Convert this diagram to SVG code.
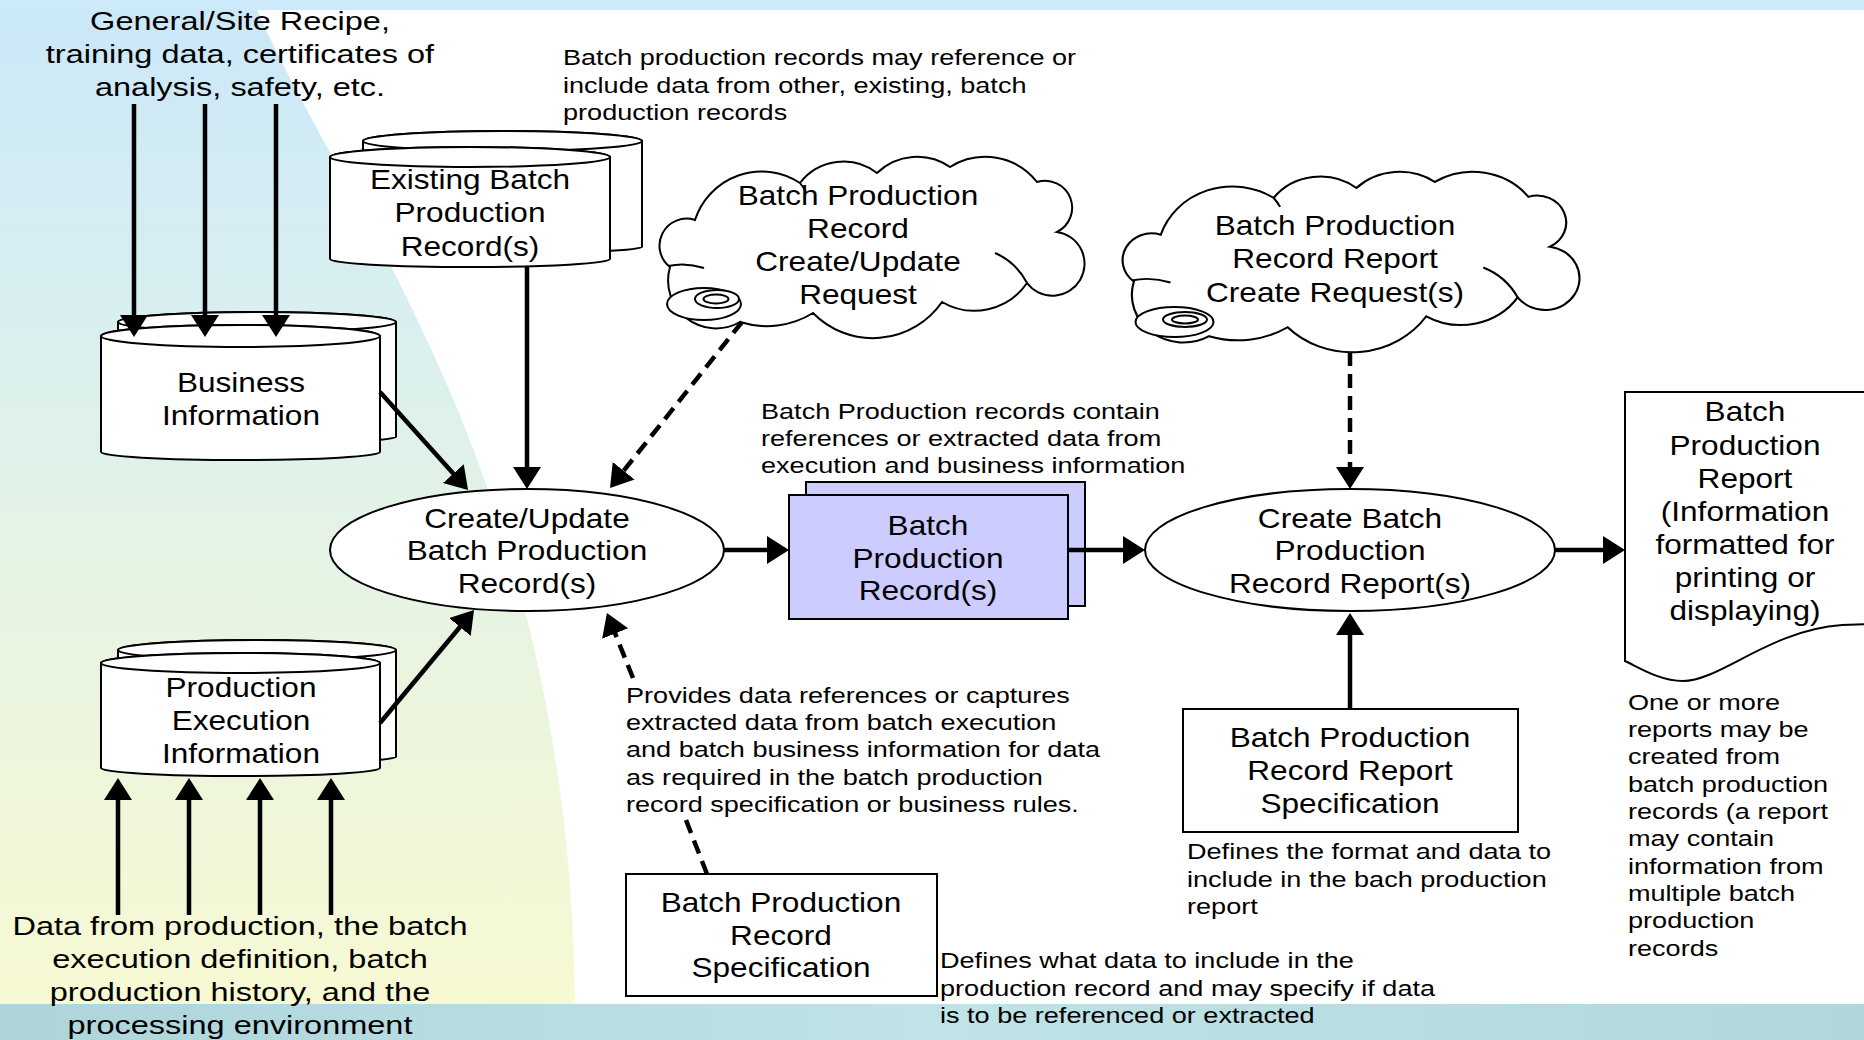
<svg xmlns="http://www.w3.org/2000/svg" width="1864" height="1040" viewBox="0 0 1864 1040">
  <defs>
    <linearGradient id="sideFill" x1="0" y1="0" x2="0" y2="1">
      <stop offset="0" stop-color="#cbe8f9"/>
      <stop offset="0.35" stop-color="#dbf0ee"/>
      <stop offset="0.6" stop-color="#e7f4e2"/>
      <stop offset="1" stop-color="#f7f9d2"/>
    </linearGradient>
    <linearGradient id="footFill" x1="0" y1="0" x2="1" y2="0">
      <stop offset="0" stop-color="#add5da"/>
      <stop offset="0.5" stop-color="#bfe3e6"/>
      <stop offset="1" stop-color="#b0d8dc"/>
    </linearGradient>
    <marker id="ah" markerUnits="userSpaceOnUse" viewBox="0 0 24 30" markerWidth="24" markerHeight="30" refX="14" refY="14" orient="auto">
      <path d="M0,0 L22,14 L0,28 Z" fill="#000"/>
    </marker>
    <!-- cloud outline shared by both request clouds -->
    <path id="cloudShape" d="M670,267 A27,27 0 0 1 695,220 A70,70 0 0 1 800,183 A55,55 0 0 1 877,173 A58,58 0 0 1 950,167 A66,66 0 0 1 1037,182 A27,27 0 0 1 1057,232 A32,32 0 1 1 1027,283 A64,64 0 0 1 942,302 A84,84 0 0 1 813,313 A88,88 0 0 1 740,322 A48,48 0 0 1 670,267 Z"/>
    <path id="cloudInner" d="M668,266 Q686,262 704,268 M1027,283 Q1016,262 995,253 M800,183 Q804,188 806,192"/>
  </defs>
  <style>
    text { font-family: "Liberation Sans", Arial, sans-serif; fill: #000; }
    .n { font-size: 27px; text-anchor: middle; }
    .lab { font-size: 26px; text-anchor: middle; }
    .note { font-size: 21.5px; text-anchor: start; }
    .shape { fill: #fff; stroke: #000; stroke-width: 2; }
    .cloud { fill: #fff; stroke: #000; stroke-width: 2; vector-effect: non-scaling-stroke; }
    .cloudline { fill: none; stroke: #000; stroke-width: 2; vector-effect: non-scaling-stroke; }
    .rec { fill: #ccccff; stroke: #000; stroke-width: 2; }
    .arrow { fill: none; stroke: #000; stroke-width: 4.5; }
    .head { marker-end: url(#ah); }
    .dash { stroke-dasharray: 14 8; }
  </style>

  <!-- backdrop -->
  <rect x="0" y="0" width="1864" height="1040" fill="#fff"/>
  <path d="M0,10 L257,10 C350,220 570,480 575,1005 L0,1005 Z" fill="url(#sideFill)"/>
  <rect x="0" y="0" width="1864" height="10" fill="#cdeafa"/>
  <rect x="0" y="1004" width="1864" height="36" fill="url(#footFill)"/>

  <!-- free labels and notes -->
  <g id="label-recipe">
    <text class="lab" transform="translate(240,0) scale(1.25,1)"><tspan x="0" y="30">General/Site Recipe,</tspan><tspan x="0" y="63">training data, certificates of</tspan><tspan x="0" y="96">analysis, safety, etc.</tspan></text>
  </g>
  <g id="label-production-data">
    <text class="lab" transform="translate(240,0) scale(1.25,1)"><tspan x="0" y="935">Data from production, the batch</tspan><tspan x="0" y="968">execution definition, batch</tspan><tspan x="0" y="1001">production history, and the</tspan><tspan x="0" y="1034">processing environment</tspan></text>
  </g>
  <g id="note-existing">
    <text class="note" transform="translate(563,0) scale(1.26,1)"><tspan x="0" y="65">Batch production records may reference or</tspan><tspan x="0" y="93">include data from other, existing, batch</tspan><tspan x="0" y="120">production records</tspan></text>
  </g>
  <g id="note-contain">
    <text class="note" transform="translate(761,0) scale(1.26,1)"><tspan x="0" y="419">Batch Production records contain</tspan><tspan x="0" y="446">references or extracted data from</tspan><tspan x="0" y="473">execution and business information</tspan></text>
  </g>
  <g id="note-provides">
    <text class="note" transform="translate(626,0) scale(1.26,1)"><tspan x="0" y="703">Provides data references or captures</tspan><tspan x="0" y="730">extracted data from batch execution</tspan><tspan x="0" y="757">and batch business information for data</tspan><tspan x="0" y="785">as required in the batch production</tspan><tspan x="0" y="812">record specification or business rules.</tspan></text>
  </g>
  <g id="note-report-spec">
    <text class="note" transform="translate(1187,0) scale(1.26,1)"><tspan x="0" y="859">Defines the format and data to</tspan><tspan x="0" y="887">include in the bach production</tspan><tspan x="0" y="914">report</tspan></text>
  </g>
  <g id="note-record-spec">
    <text class="note" transform="translate(940,0) scale(1.26,1)"><tspan x="0" y="968">Defines what data to include in the</tspan><tspan x="0" y="996">production record and may specify if data</tspan><tspan x="0" y="1023">is to be referenced or extracted</tspan></text>
  </g>
  <g id="note-reports">
    <text class="note" transform="translate(1628,0) scale(1.26,1)"><tspan x="0" y="710">One or more</tspan><tspan x="0" y="737">reports may be</tspan><tspan x="0" y="764">created from</tspan><tspan x="0" y="792">batch production</tspan><tspan x="0" y="819">records (a report</tspan><tspan x="0" y="846">may contain</tspan><tspan x="0" y="874">information from</tspan><tspan x="0" y="901">multiple batch</tspan><tspan x="0" y="928">production</tspan><tspan x="0" y="956">records</tspan></text>
  </g>

  <!-- stores -->
  <g id="business-information">
    <path class="shape" d="M118,322 L118,437 A139,6 0 0 0 396,437 L396,322 A139,10 0 0 0 118,322 Z"/>
    <ellipse class="shape" cx="257" cy="322" rx="139" ry="10"/>
    <path class="shape" d="M101,336 L101,452 A139.5,8 0 0 0 380,452 L380,336 A139.5,11 0 0 0 101,336 Z"/>
    <ellipse class="shape" cx="240.5" cy="336" rx="139.5" ry="11"/>
    <text class="n" transform="translate(241,0) scale(1.17,1)"><tspan x="0" y="392">Business</tspan><tspan x="0" y="425">Information</tspan></text>
  </g>
  <g id="production-execution-information">
    <path class="shape" d="M118,650 L118,757 A139,6 0 0 0 396,757 L396,650 A139,10 0 0 0 118,650 Z"/>
    <ellipse class="shape" cx="257" cy="650" rx="139" ry="10"/>
    <path class="shape" d="M101,663 L101,768 A139.5,8 0 0 0 380,768 L380,663 A139.5,10 0 0 0 101,663 Z"/>
    <ellipse class="shape" cx="240.5" cy="663" rx="139.5" ry="10"/>
    <text class="n" transform="translate(241,0) scale(1.17,1)"><tspan x="0" y="697">Production</tspan><tspan x="0" y="730">Execution</tspan><tspan x="0" y="763">Information</tspan></text>
  </g>
  <g id="existing-records">
    <path class="shape" d="M363,141 L363,247 A139.5,6 0 0 0 642,247 L642,141 A139.5,10 0 0 0 363,141 Z"/>
    <ellipse class="shape" cx="502.5" cy="141" rx="139.5" ry="10"/>
    <path class="shape" d="M330,157 L330,259 A140,8 0 0 0 610,259 L610,157 A140,10 0 0 0 330,157 Z"/>
    <ellipse class="shape" cx="470" cy="157" rx="140" ry="10"/>
    <text class="n" transform="translate(470,0) scale(1.17,1)"><tspan x="0" y="189">Existing Batch</tspan><tspan x="0" y="222">Production</tspan><tspan x="0" y="256">Record(s)</tspan></text>
  </g>

  <!-- request clouds -->
  <g id="record-request">
    <use href="#cloudShape" class="cloud"/>
    <use href="#cloudInner" class="cloudline"/>
    <ellipse class="shape" cx="704" cy="304" rx="37" ry="16"/>
    <ellipse class="shape" cx="717" cy="299" rx="22" ry="9"/>
    <ellipse class="shape" cx="716" cy="299" rx="12.5" ry="4.5"/>
    <text class="n" transform="translate(858,0) scale(1.17,1)"><tspan x="0" y="205">Batch Production</tspan><tspan x="0" y="238">Record</tspan><tspan x="0" y="271">Create/Update</tspan><tspan x="0" y="304">Request</tspan></text>
  </g>
  <g id="report-request">
    <g transform="matrix(1.075 0 0 0.995 413.65 15.8)">
      <use href="#cloudShape" class="cloud"/>
      <use href="#cloudInner" class="cloudline"/>
    </g>
    <ellipse class="shape" cx="1174.5" cy="322" rx="39" ry="15"/>
    <ellipse class="shape" cx="1185" cy="319.5" rx="22" ry="7.5"/>
    <ellipse class="shape" cx="1185" cy="319.5" rx="13" ry="4"/>
    <text class="n" transform="translate(1335,0) scale(1.17,1)"><tspan x="0" y="235">Batch Production</tspan><tspan x="0" y="268">Record Report</tspan><tspan x="0" y="302">Create Request(s)</tspan></text>
  </g>

  <!-- processes -->
  <g id="create-update-records">
    <ellipse class="shape" cx="527" cy="550" rx="197" ry="61"/>
    <text class="n" transform="translate(527,0) scale(1.17,1)"><tspan x="0" y="528">Create/Update</tspan><tspan x="0" y="560">Batch Production</tspan><tspan x="0" y="593">Record(s)</tspan></text>
  </g>
  <g id="batch-production-records">
    <rect class="rec" x="806" y="482" width="279" height="124"/>
    <rect class="rec" x="789" y="495" width="279" height="124"/>
    <text class="n" transform="translate(928,0) scale(1.17,1)"><tspan x="0" y="535">Batch</tspan><tspan x="0" y="568">Production</tspan><tspan x="0" y="600">Record(s)</tspan></text>
  </g>
  <g id="create-report">
    <ellipse class="shape" cx="1350" cy="550" rx="205" ry="61"/>
    <text class="n" transform="translate(1350,0) scale(1.17,1)"><tspan x="0" y="528">Create Batch</tspan><tspan x="0" y="560">Production</tspan><tspan x="0" y="593">Record Report(s)</tspan></text>
  </g>
  <g id="report-specification">
    <rect class="shape" x="1183" y="709" width="335" height="123"/>
    <text class="n" transform="translate(1350,0) scale(1.17,1)"><tspan x="0" y="747">Batch Production</tspan><tspan x="0" y="780">Record Report</tspan><tspan x="0" y="813">Specification</tspan></text>
  </g>
  <g id="record-specification">
    <rect class="shape" x="626" y="874" width="311" height="122"/>
    <text class="n" transform="translate(781,0) scale(1.17,1)"><tspan x="0" y="912">Batch Production</tspan><tspan x="0" y="945">Record</tspan><tspan x="0" y="977">Specification</tspan></text>
  </g>
  <g id="production-report">
    <path class="shape" d="M1625,392 L1868,392 L1868,624 L1842,625 C1770,630 1720,681 1683,681 C1660,681 1640,668 1625,661 Z"/>
    <text class="n" transform="translate(1745,0) scale(1.17,1)"><tspan x="0" y="421">Batch</tspan><tspan x="0" y="455">Production</tspan><tspan x="0" y="488">Report</tspan><tspan x="0" y="521">(Information</tspan><tspan x="0" y="554">formatted for</tspan><tspan x="0" y="587">printing or</tspan><tspan x="0" y="620">displaying)</tspan></text>
  </g>

  <!-- connectors, drawn over the nodes they touch -->
  <g id="connectors">
    <path class="arrow head" d="M134,104 L134,329"/>
    <path class="arrow head" d="M205,104 L205,329"/>
    <path class="arrow head" d="M276,104 L276,329"/>
    <path class="arrow head" d="M118,915 L118,786"/>
    <path class="arrow head" d="M189,915 L189,786"/>
    <path class="arrow head" d="M260,915 L260,786"/>
    <path class="arrow head" d="M331,915 L331,786"/>
    <path class="arrow head" d="M380,392 L462.7,484"/>
    <path class="arrow head" d="M527,267 L527,481"/>
    <path class="arrow head" d="M380,723 L468.9,616.2"/>
    <path class="arrow dash head" d="M742,322 L615,481.7"/>
    <path class="arrow dash" d="M707,874 L686,820"/>
    <path class="arrow dash head" d="M633,678 L609.9,620.5"/>
    <path class="arrow head" d="M724,550 L781,550"/>
    <path class="arrow head" d="M1068,550 L1137,550"/>
    <path class="arrow head" d="M1555,550 L1617,550"/>
    <path class="arrow dash head" d="M1350,352 L1350,481"/>
    <path class="arrow head" d="M1350,709 L1350,621"/>
  </g>
</svg>
